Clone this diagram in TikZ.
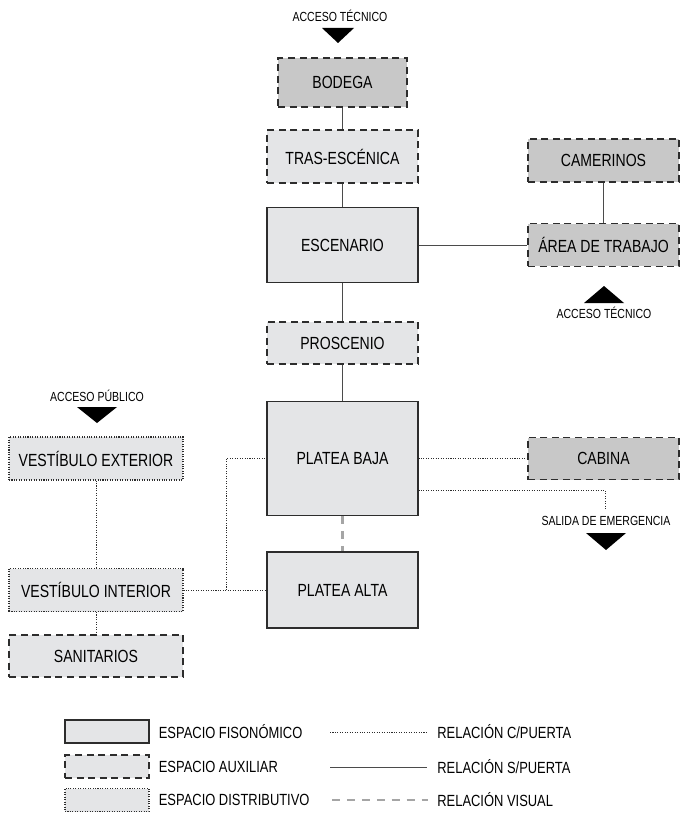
\documentclass[tikz,border=0pt]{standalone}
\usepackage{fontspec}
\setmainfont{Liberation Sans}[FakeStretch=0.8]
\usepackage{tikz}
\usetikzlibrary{positioning}
\definecolor{claro}{RGB}{228,229,231}
\definecolor{oscuro}{RGB}{200,200,200}
\definecolor{borde}{RGB}{45,45,45}
\definecolor{linea}{RGB}{75,75,75}
\definecolor{gvisual}{RGB}{165,165,165}

\begin{document}
\begin{tikzpicture}[x=0.02cm,y=-0.02cm,
  espacio/.style={draw=borde,line width=0.6pt,fill=claro,inner sep=0pt,font=\fontsize{10}{12}\selectfont},
  fison/.style={espacio},
  aux/.style={espacio,dash pattern=on 4pt off 2.6pt},
  dist/.style={espacio,dash pattern=on 0.6pt off 0.8pt},
  gris/.style={fill=oscuro},
  spuerta/.style={draw=linea,line width=0.5pt},
  cpuerta/.style={draw=borde,line width=0.5pt,dash pattern=on 0.6pt off 0.8pt},
  visual/.style={draw=gvisual,line width=1.2pt,dash pattern=on 4.5pt off 4pt},
  rotulo/.style={inner sep=0pt,font=\fontsize{7.5}{9}\selectfont},
  leyenda/.style={inner sep=0pt,anchor=west,font=\fontsize{9.2}{11}\selectfont}]
\useasboundingbox (0,0) rectangle (680,814);

% espacios
\node[aux,gris,minimum width=2.58cm,minimum height=0.98cm] (bodega) at (342.5,82.5) {BODEGA};
\node[aux,minimum width=3.02cm,minimum height=1.06cm] (tras) at (342.5,156.5) {TRAS-ESCÉNICA};
\node[fison,minimum width=3.02cm,minimum height=1.5cm] (escenario) at (342.5,245) {ESCENARIO};
\node[aux,minimum width=3.02cm,minimum height=0.84cm] (proscenio) at (342.5,343) {PROSCENIO};
\node[fison,minimum width=3.02cm,minimum height=2.28cm] (pbaja) at (342.5,458.5) {PLATEA BAJA};
\node[fison,minimum width=3.02cm,minimum height=1.52cm] (palta) at (342.5,590) {PLATEA ALTA};
\node[aux,gris,minimum width=3.02cm,minimum height=0.86cm] (camerinos) at (603.5,160.5) {CAMERINOS};
\node[aux,gris,minimum width=3.02cm,minimum height=0.86cm] (area) at (603.5,245) {ÁREA DE TRABAJO};
\node[aux,gris,minimum width=3.02cm,minimum height=0.84cm] (cabina) at (603.5,458.5) {CABINA};
\node[dist,minimum width=3.48cm,minimum height=0.86cm] (vext) at (96,458.5) {VESTÍBULO EXTERIOR};
\node[dist,minimum width=3.48cm,minimum height=0.86cm] (vint) at (96,590) {VESTÍBULO INTERIOR};
\node[aux,minimum width=3.48cm,minimum height=0.84cm] (sanitarios) at (96,656) {SANITARIOS};

% accesos
\node[rotulo] (acctop) at (340,16) {ACCESO TÉCNICO};
\fill[black] (322,28) -- (354,28) -- (338,43) -- cycle;
\node[rotulo] (accder) at (604,313) {ACCESO TÉCNICO};
\fill[black] (584,303) -- (624,303) -- (604,286) -- cycle;
\node[rotulo] (accpub) at (97,396) {ACCESO PÚBLICO};
\fill[black] (77,407) -- (117,407) -- (97,423) -- cycle;
\node[rotulo] (salidatxt) at (606,521) {SALIDA DE EMERGENCIA};
\fill[black] (586,533) -- (626,533) -- (606,550) -- cycle;
\coordinate (salida) at (605,509);
\coordinate (codo) at (226,590);

% relaciones
\draw[spuerta] (bodega) -- (tras);
\draw[spuerta] (tras) -- (escenario);
\draw[spuerta] (escenario) -- (proscenio);
\draw[spuerta] (proscenio) -- (pbaja);
\draw[spuerta] (escenario) -- (area);
\draw[spuerta] (camerinos) -- (area);
\draw[cpuerta] (pbaja) -- (cabina);
\draw[cpuerta] ([yshift=-0.64cm]pbaja.east) -| (salida);
\draw[cpuerta] (vext) -- (vint);
\draw[cpuerta] (vint) -- (sanitarios);
\draw[cpuerta] (vint) -- (palta);
\draw[cpuerta] (codo) |- (pbaja);
\draw[visual] (pbaja) -- (palta);

% leyenda
\node[fison,minimum width=1.68cm,minimum height=0.46cm] (leyfis) at (107,731.5) {};
\node[aux,minimum width=1.68cm,minimum height=0.46cm] (leyaux) at (107,766.5) {};
\node[dist,minimum width=1.68cm,minimum height=0.46cm] (leydis) at (107,800) {};
\node[leyenda,right=0.18cm of leyfis] (tfis) {ESPACIO FISONÓMICO};
\node[leyenda,right=0.18cm of leyaux] (taux) {ESPACIO AUXILIAR};
\node[leyenda,right=0.18cm of leydis] (tdis) {ESPACIO DISTRIBUTIVO};
\coordinate (l1a) at (330,732);
\coordinate (l1b) at (427,732);
\coordinate (l2a) at (330,767);
\coordinate (l2b) at (427,767);
\coordinate (l3a) at (332,800);
\coordinate (l3b) at (428,800);
\draw[cpuerta] (l1a) -- (l1b);
\draw[spuerta] (l2a) -- (l2b);
\draw[visual] (l3a) -- (l3b);
\node[leyenda,right=0.2cm of l1b] (tcp) {RELACIÓN C/PUERTA};
\node[leyenda,right=0.2cm of l2b] (tsp) {RELACIÓN S/PUERTA};
\node[leyenda,right=0.18cm of l3b] (tvis) {RELACIÓN VISUAL};
\end{tikzpicture}
\end{document}
